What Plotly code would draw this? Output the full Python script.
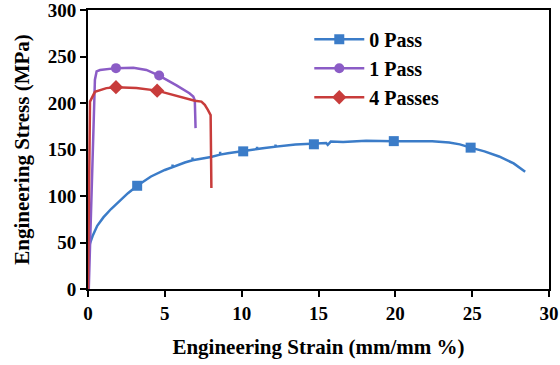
import plotly.graph_objects as go

# ---- data ----
series_names = ["0 Pass", "1 Pass", "4 Passes"]

pass0_x = [0, 0, 0.13, 0.3, 0.6, 1.0, 1.5, 2.0, 2.6, 3.2, 4.1, 5.0, 5.5, 5.5, 5.5, 6.3, 6.8, 6.8, 6.8,
           8.0, 8.6, 8.6, 8.6, 9.1, 10.1, 11.0, 11.0, 11.0, 11.5, 12.2, 12.2, 12.2, 13.5,
           14.7, 15.5, 15.6, 15.8, 16.6, 18.1, 19.9, 21.5, 22.4, 23.5, 24.2, 24.9, 25.8,
           26.75, 27.7, 28.45]
pass0_y = [0, 39, 49, 57, 68, 77, 86, 94, 103, 111, 121, 128, 131, 134, 131, 136, 138.5, 141.5, 138.5,
           142, 144.5, 147.5, 144.5, 146, 148, 150.5, 153, 150.5, 151.5, 153, 155.5, 153, 155.5,
           156, 157, 155, 158.5, 158, 159.5, 159, 159.5, 159, 157.5, 155.5, 152,
           148, 142.5, 135, 126]
pass0_mx = [3.2, 10.1, 14.7, 19.9, 24.9]
pass0_my = [111, 148, 155.6, 159, 152]

pass1_x = [0.05, 0.35, 0.45, 0.56, 0.78, 1.82, 2.95, 3.8, 4.63, 5.76, 6.6, 6.85, 6.95, 7.0]
pass1_y = [0, 166, 225, 234, 235.5, 237.5, 238, 235.5, 229.5, 219, 210.5, 207, 203, 173]
pass1_mx = [1.82, 4.63]
pass1_my = [237.5, 229.5]

pass4_x = [0.0, 0.08, 0.13, 0.45, 1.2, 1.82, 3.15, 4.5, 5.97, 6.95, 7.38, 7.6, 7.8, 7.98, 8.03]
pass4_y = [0, 191, 201.5, 212, 216, 217, 216, 213.3, 207, 202.5, 201.5, 198, 192.6, 187, 108.5]
pass4_mx = [1.82, 4.5]
pass4_my = [217, 213.3]

x_ticks = [0, 5, 10, 15, 20, 25, 30]
y_ticks = [0, 50, 100, 150, 200, 250, 300]

colors = ["#3B7CC8", "#8B5CC6", "#C83C3B"]
symbols = ["square", "circle", "diamond"]
msizes = [10, 10, 11]

curves = [(pass0_x, pass0_y, pass0_mx, pass0_my),
          (pass1_x, pass1_y, pass1_mx, pass1_my),
          (pass4_x, pass4_y, pass4_mx, pass4_my)]

fig = go.Figure()
for name, (cx, cy, mx, my), col, sym, ms in zip(series_names, curves, colors, symbols, msizes):
    fig.add_trace(go.Scatter(x=cx, y=cy, mode="lines", line=dict(color=col, width=2.5),
                             legendgroup=name, showlegend=False, hoverinfo="skip"))
    fig.add_trace(go.Scatter(x=mx, y=my, mode="markers",
                             marker=dict(color=col, symbol=sym, size=ms),
                             legendgroup=name, showlegend=False))
    # legend entry (no data)
    fig.add_trace(go.Scatter(x=[None], y=[None], mode="lines+markers", name=name,
                             line=dict(color=col, width=2.5),
                             marker=dict(color=col, symbol=sym, size=ms),
                             legendgroup=name))

tickfont = dict(family="Liberation Serif", size=19, color="black", weight="bold")
titlefont = dict(family="Liberation Serif", size=21, color="black", weight="bold")

fig.update_layout(
    width=560, height=365,
    margin=dict(l=88, r=11, t=10, b=76),
    paper_bgcolor="white", plot_bgcolor="white",
    showlegend=True,
    legend=dict(x=0.48, y=0.965, xanchor="left", yanchor="top",
                bgcolor="rgba(0,0,0,0)", itemwidth=50,
                font=dict(family="Liberation Serif", size=20, color="black", weight="bold"),
                tracegroupgap=0),
)
fig.update_xaxes(range=[0, 30], tickvals=x_ticks, ticktext=[str(v) for v in x_ticks],
                 automargin=False, ticklabeloverflow="allow",
                 showgrid=False, zeroline=False, showline=True, linecolor="black", linewidth=2,
                 mirror=True, ticks="outside", ticklen=6, tickwidth=2, tickcolor="black",
                 tickfont=tickfont,
                 title=dict(text="Engineering Strain (mm/mm %)", font=titlefont, standoff=17))
fig.update_yaxes(range=[0, 300], tickvals=y_ticks, ticktext=[str(v) for v in y_ticks],
                 automargin=False, ticklabeloverflow="allow",
                 showgrid=False, zeroline=False, showline=True, linecolor="black", linewidth=2,
                 mirror=True, ticks="outside", ticklen=6, tickwidth=2, tickcolor="black",
                 tickfont=tickfont,
                 title=dict(text="Engineering Stress (MPa)", font=titlefont, standoff=12))

fig.write_html("out.html", config={"displayModeBar": False},
               post_script="document.body.style.margin='0px';document.body.style.padding='0px';")
